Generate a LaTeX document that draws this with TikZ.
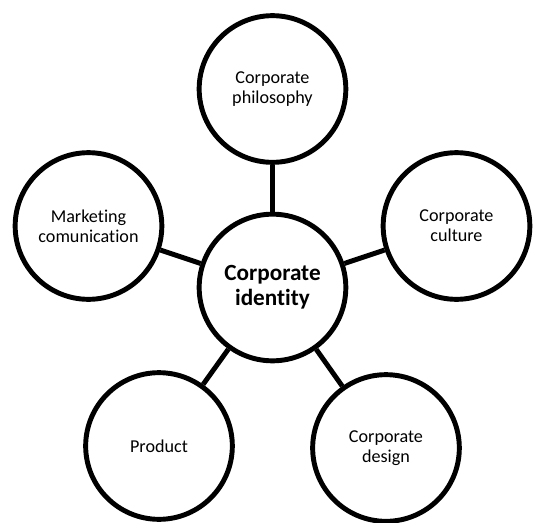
\documentclass[tikz,border=0pt]{standalone}
\usepackage{fontspec}
\setmainfont{Carlito}[Ligatures={NoCommon}]

\begin{document}
\begin{tikzpicture}[x=0.75pt, y=0.75pt,
  topic/.style={circle, draw, line width=3.7pt, minimum size=110pt,
    inner sep=0pt, align=center, font=\fontsize{13.6}{15}\selectfont},
  core/.style={topic, font=\fontsize{17.4}{18.8}\selectfont\bfseries},
  link/.style={line width=3.7pt}]

  \useasboundingbox (-272.5,-234.5) rectangle (263.5,287.5);

  % Core
  \node[core] (ci) at (0,0) {Corporate\\identity}; %

  % Topics around the core
  \node[topic] (phil) at (0,198.5)        {Corporate\\philosophy}; %
  \node[topic] (cult) at (184,61.5)       {Corporate\\culture}; %
  \node[topic] (des)  at (113.5,-160.5)   {Corporate\\design}; %
  \node[topic] (prod) at (-113.5,-158.5)  {Product}; %
  \node[topic] (mark) at (-184,61.5)      {Marketing\\comunication}; %

  % Links
  \foreach \t in {phil,cult,des,prod,mark}
    \draw[link] (ci) -- (\t); %

\end{tikzpicture}
\end{document}
